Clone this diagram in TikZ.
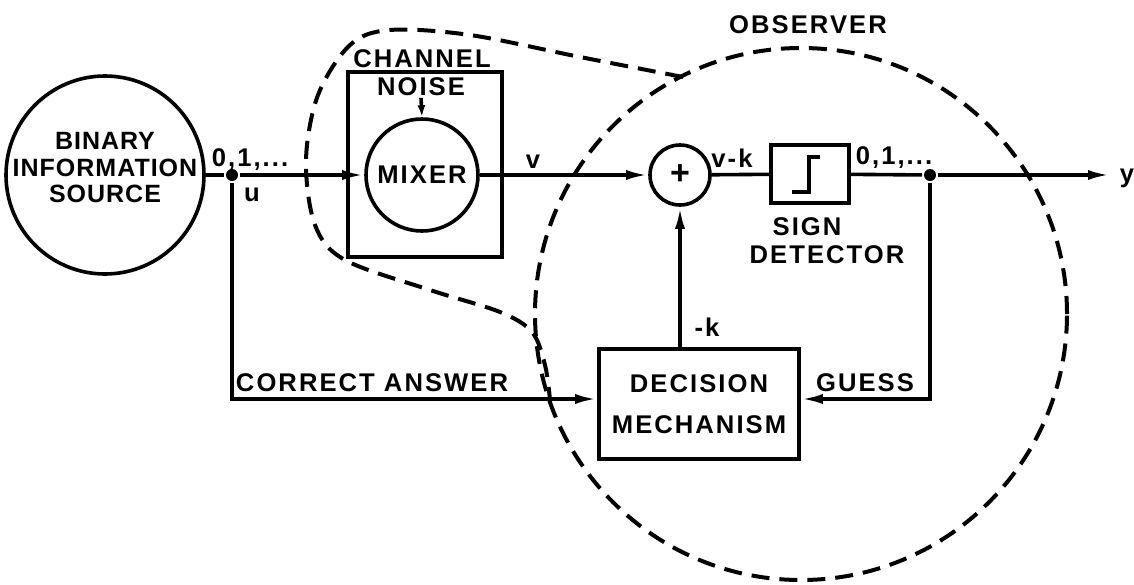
\documentclass[tikz,border=0pt]{standalone}
\usepackage{fontspec}
\setsansfont{Liberation Sans}[LetterSpace=8]
\newfontfamily\srcfont{Liberation Sans}[LetterSpace=4]
\usetikzlibrary{arrows.meta}

\begin{document}
\begin{tikzpicture}[x=0.5pt,y=-0.5pt,line width=1.8pt,
  every node/.style={font=\sffamily\bfseries\fontsize{12.8}{13.5}\selectfont,inner sep=0pt,align=center},
  blk/.style={draw,rectangle},
  rnd/.style={draw,circle},
  dot/.style={circle,fill,minimum size=6pt},
  sig/.style={-{Latex[length=11pt,width=5pt]}},
  obs/.style={dash pattern=on 9pt off 5pt,line width=2pt}]
  \useasboundingbox (0,0) rectangle (1134,584);

  % source
  \node[rnd,minimum size=99pt] (src) at (105,175) {};
  \node[font=\srcfont\bfseries\fontsize{12.5}{13.25}\selectfont] (srctxt) at (105,168) {BINARY\\INFORMATION\\SOURCE};
  \node[dot] (ju) at (232,175) {};
  \node (ulbl) at (250,160) {0,1,...};
  \node (u) at (252,195) {u};

  % channel
  \node[blk,minimum width=77pt,minimum height=92.5pt] (chan) at (425,164.5) {};
  \node (chanlbl) at (422,59) {CHANNEL};
  \node (noise) at (421,87) {NOISE};
  \node[rnd,minimum size=56pt] (mix) at (422,175) {MIXER};
  \draw[-{Latex[length=6pt,width=4pt]}] (noise.south) -- (mix.north);
  \draw (src) -- (ju);
  \draw[sig] (ju) -- (mix.west);
  \node (v) at (533,162) {v};

  % observer
  \node[rnd,minimum size=30pt,font=\sffamily\bfseries\fontsize{17}{17}\selectfont] (sum) at (680,175) {+};
  \draw[sig] (mix) -- (sum);
  \node[blk,minimum width=39pt,minimum height=29pt] (sign) at (810,174) {};
  \draw[line width=1.6pt] (792,192) -- (809,192) -- (809,157) -- (820,157);
  \draw (sum) -- (sign);
  \node (vk) at (732,158) {v-k};
  \node (signlbl) at (807,227) {SIGN};
  \node (detlbl) at (827,255) {DETECTOR};
  \node[dot] (jy) at (930,175) {};
  \node (ylbl0) at (894,158) {0,1,...};
  \coordinate (yend) at (1110,175);
  \draw (sign) -- (jy);
  \draw[sig] (jy) -- (yend);
  \node (y) at (1127,178) {y};

  % decision
  \node[blk,minimum width=100pt,minimum height=55pt,font=\sffamily\bfseries\fontsize{12.8}{20.5}\selectfont] (dec) at (699,404) {DECISION\\MECHANISM};
  \draw[sig] (sum |- dec.north) -- (sum.south);
  \node (mk) at (707,327) {-k};
  \draw[sig] (ju) |- ([yshift=2.5pt]dec.west);
  \draw[sig] (jy) |- ([yshift=2.5pt]dec.east);
  \node (corr) at (372,383) {CORRECT ANSWER};
  \node (guess) at (865,383) {GUESS};

  % dashed outlines
  \node (obslbl) at (808,25) {OBSERVER};
  \draw[obs] (801,314) circle[radius=133pt];
  \draw[obs] plot[smooth,tension=0.55] coordinates {(683,77) (580,57) (470,35) (390,30) (350,45) (318,95) (306,160) (315,225) (345,260) (430,290) (500,312) (532,332) (545,365) (550,400)};
\end{tikzpicture}
\end{document}
